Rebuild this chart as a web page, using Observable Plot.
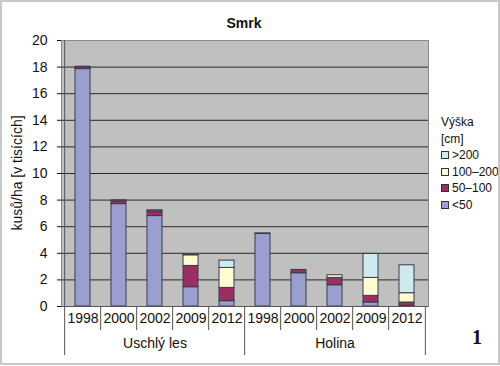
<!DOCTYPE html>
<html>
<head>
<meta charset="utf-8">
<script src="https://cdn.jsdelivr.net/npm/d3@7"></script>
<script src="https://cdn.jsdelivr.net/npm/@observablehq/plot@0.6"></script>
<style>
  body { margin: 0; background: #fff; font-family: "Liberation Sans", Arial, sans-serif; }
  #wrap { position: relative; width: 500px; height: 366px; overflow: hidden; }
  #border { position: absolute; left: 0; top: 0; width: 496px; height: 361px; border: 2px solid #c8c8c8; pointer-events: none; }
  #chart { position: absolute; left: 0; top: 0; }
  .abs { position: absolute; white-space: nowrap; color: #111; }
  #title { left: 244px; top: 23px; transform: translate(-50%, -50%); font-weight: bold; font-size: 14px; }
  #ylab { left: 17px; top: 173px; transform: translate(-50%, -50%) rotate(-90deg); font-size: 14px; }
  #num { left: 472px; top: 326px; font-family: "Liberation Serif", serif; font-weight: bold; font-size: 20px; }
  #legend { left: 441px; top: 114px; font-size: 12px; line-height: 16.5px; }
  .sw { display: inline-block; width: 6px; height: 6px; border: 1px solid #333; margin-right: 3px; vertical-align: 0px; }
</style>
</head>
<body>
<div id="wrap">
  <div id="chart"></div>
  <div id="title" class="abs"></div>
  <div id="ylab" class="abs"></div>
  <div id="legend" class="abs"></div>
  <div id="num" class="abs"></div>
  <div id="border"></div>
</div>
<script>
const titleText = "Smrk";
const yLabel = "kusů/ha [v tisících]";
const legendTitle = ["Výška", "[cm]"];
const figNumber = "1";
const groups = ["Uschlý les", "Holina"];
const years = ["1998", "2000", "2002", "2009", "2012"];
const classes = ["<50", "50–100", "100–200", ">200"];
const classColors = ["#9b9fd0", "#9a2f62", "#fdfbcf", "#cdebef"];
const yTicks = [0, 2, 4, 6, 8, 10, 12, 14, 16, 18, 20];
// values per bar: Uschlý les 1998..2012, Holina 1998..2012
const lt50    = [17.85, 7.7, 6.8, 1.45, 0.4, 5.45, 2.5, 1.6, 0.3, 0.05];
const c50_100 = [0.15, 0.2, 0.3, 1.6, 1.0, 0.05, 0.25, 0.55, 0.5, 0.25];
const c100_200= [0.03, 0.05, 0.1, 0.8, 1.5, 0, 0, 0.2, 1.35, 0.7];
const gt200   = [0, 0.03, 0.03, 0.07, 0.55, 0, 0, 0, 1.8, 2.1];

const series = [lt50, c50_100, c100_200, gt200];
const keys = [];
groups.forEach(g => years.forEach(y => keys.push(g + "|" + y)));
const data = [];
keys.forEach((k, i) => classes.forEach((c, j) => {
  if (series[j][i] > 0) data.push({key: k, cls: c, value: series[j][i]});
}));

const W = 500, H = 366, mL = 61, mR = 72, mT = 40, mB = 60;
const step = (W - mL - mR) / keys.length;
const groupStarts = groups.map(g => g + "|" + years[0]);
const groupMids = groups.map(g => g + "|" + years[2]);
const innerKeys = keys.filter(k => !groupStarts.includes(k));

const chart = Plot.plot({
  width: W, height: H,
  marginLeft: mL, marginRight: mR, marginTop: mT, marginBottom: mB,
  style: {fontFamily: "Liberation Sans, Arial, sans-serif", fontSize: "14px", color: "#111", background: "transparent"},
  x: {domain: keys, paddingInner: 0.58, paddingOuter: 0.29, axis: null},
  y: {domain: [0, 20], ticks: yTicks, tickSize: 4, tickPadding: 10, label: null},
  color: {domain: classes, range: classColors},
  marks: [
    Plot.frame({fill: "#c0c0c0", stroke: "#8a8a8a"}),
    Plot.ruleY(yTicks.filter(t => t > 0 && t < 20), {stroke: "#2a2a2a", strokeWidth: 1}),
    Plot.barY(data, {x: "key", y: "value", fill: "cls", stroke: "#3a3a4a", strokeWidth: 1, order: classes}),
    Plot.ruleY([0], {stroke: "#555", strokeWidth: 1}),
    // separators between years
    Plot.ruleX(innerKeys, {x: d => d, dx: -step / 2, insetTop: H - mT - mB, insetBottom: -24, stroke: "#555"}),
    // group boundaries + y axis line
    Plot.ruleX([groupStarts[0]], {x: d => d, dx: -step / 2, insetBottom: -49, stroke: "#555"}),
    Plot.ruleX([groupStarts[1]], {x: d => d, dx: -step / 2, insetTop: H - mT - mB, insetBottom: -49, stroke: "#555"}),
    Plot.ruleX([keys[keys.length - 1]], {x: d => d, dx: step / 2, insetTop: H - mT - mB, insetBottom: -49, stroke: "#555"}),
    Plot.text(keys, {x: d => d, text: d => d.split("|")[1], frameAnchor: "bottom", dy: 16, fontSize: 14, fill: "#111"}),
    Plot.text(groupMids, {x: d => d, text: d => d.split("|")[0], frameAnchor: "bottom", dy: 41, fontSize: 14, fill: "#111"})
  ]
});
document.getElementById("chart").appendChild(chart);
document.getElementById("title").textContent = titleText;
document.getElementById("ylab").textContent = yLabel;
document.getElementById("num").textContent = figNumber;
const leg = document.getElementById("legend");
legendTitle.forEach(t => { const d = document.createElement("div"); d.textContent = t; leg.appendChild(d); });
classes.slice().reverse().forEach(c => {
  const d = document.createElement("div");
  const s = document.createElement("span");
  s.className = "sw";
  s.style.background = classColors[classes.indexOf(c)];
  d.appendChild(s);
  d.appendChild(document.createTextNode(c));
  leg.appendChild(d);
});
</script>
</body>
</html>
